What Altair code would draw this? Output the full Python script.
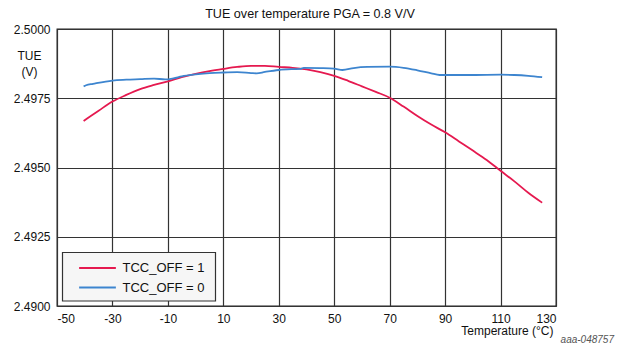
import altair as alt
import pandas as pd

# ---- data ----
temp_tcc1 = [-40.4, -39, -35, -30, -25, -20, -15, -10, -5, 0, 5, 10, 15, 20, 25, 30, 35, 40,
             45, 50, 55, 60, 65, 70, 75, 80, 85, 90, 95, 100, 105, 110, 115, 120, 125]
tue_tcc1 = [2.49668, 2.49678, 2.49705, 2.49738, 2.49762, 2.49783, 2.49798, 2.49811, 2.49826,
            2.49838, 2.49848, 2.49856, 2.49863, 2.49867, 2.49867, 2.49863, 2.49860, 2.49854,
            2.49844, 2.49831, 2.49813, 2.49793, 2.49773, 2.49752, 2.49720, 2.49686, 2.49655,
            2.49627, 2.49594, 2.49561, 2.49527, 2.49488, 2.49450, 2.49409, 2.49373]

temp_tcc0 = [-40.4, -39.5, -37, -30, -25, -20, -15, -11, -8, -5, 0, 5, 10, 15, 20, 22, 25, 30,
             35, 38, 39, 45, 50, 53, 57, 62, 70, 75, 80, 85, 88, 95, 100, 110, 115, 120, 125]
tue_tcc0 = [2.49793, 2.49797, 2.49802, 2.49814, 2.49817, 2.49819, 2.49821, 2.49818, 2.49822,
            2.49829, 2.49836, 2.49841, 2.49843, 2.49844, 2.49841, 2.49840, 2.49845, 2.49852,
            2.49855, 2.49856, 2.49860, 2.49859, 2.49857, 2.49852, 2.49859, 2.49863, 2.49864,
            2.49860, 2.49851, 2.49840, 2.49834, 2.49834, 2.49834, 2.49835, 2.49834, 2.49831,
            2.49826]

series_names = ["TCC_OFF = 1", "TCC_OFF = 0"]
series_colors = ["#e5194f", "#3d85cf"]
x_ticks = [-50, -30, -10, 10, 30, 50, 70, 90, 110, 130]
y_ticks = [2.4900, 2.4925, 2.4950, 2.4975, 2.5000]
title_text = "TUE over temperature PGA = 0.8 V/V"
note_text = "aaa-048757"

df = pd.concat([
    pd.DataFrame({"temp": temp_tcc1, "tue": tue_tcc1, "series": series_names[0], "ord": 1}),
    pd.DataFrame({"temp": temp_tcc0, "tue": tue_tcc0, "series": series_names[1], "ord": 0}),
], ignore_index=True)

FONT = "Liberation Sans"
W, H = 499, 277

# legend background box (drawn above the grid, below the legend entries)
legend_box = alt.Chart(pd.DataFrame({"k": [0]})).mark_rect(
    fill="#f6f6f6", stroke="#333333", strokeWidth=1.2
).encode(x=alt.value(5.5), x2=alt.value(158.5), y=alt.value(223.5), y2=alt.value(272))

lines = alt.Chart(df).mark_line(strokeWidth=1.8, interpolate="monotone").encode(
    x=alt.X("temp:Q",
            scale=alt.Scale(domain=[-50, 130], nice=False, zero=False),
            axis=alt.Axis(values=x_ticks, title="Temperature (°C)", titleX=W - 3, titleY=19,
                          titleAlign="right", titleBaseline="top",
                          labelExpr="'' + datum.value")),
    y=alt.Y("tue:Q",
            scale=alt.Scale(domain=[2.49, 2.50], nice=False, zero=False),
            axis=alt.Axis(values=y_ticks, format=".4f", title=["TUE", "(V)"], titleAngle=0,
                          titleX=-28, titleY=21, titleAlign="center", titleBaseline="top",
                          titleLineHeight=16)),
    color=alt.Color("series:N",
                    scale=alt.Scale(domain=series_names, range=series_colors),
                    legend=alt.Legend(title=None, orient="none", legendX=5.5, legendY=231.5,
                                      padding=0, symbolType="M-3,0H3", symbolSize=150,
                                      symbolStrokeWidth=2, symbolOffset=27.5, labelOffset=17.5,
                                      labelFontSize=13, labelFont=FONT, labelColor="#111",
                                      rowPadding=4.6)),
    order=alt.Order("ord:Q"),
)

title = alt.Chart(pd.DataFrame({"t": [title_text]})).mark_text(
    align="center", baseline="middle", font=FONT, fontSize=12.6, color="#111"
).encode(x=alt.value(W / 2 + 3.5), y=alt.value(-15), text="t:N")

note = alt.Chart(pd.DataFrame({"t": [note_text]})).mark_text(
    align="right", baseline="middle", font=FONT, fontSize=10, fontStyle="italic", color="#555"
).encode(x=alt.value(W + 58), y=alt.value(H + 34), text="t:N")

chart = alt.layer(legend_box, lines, title, note).properties(
    width=W, height=H,
    autosize=alt.AutoSizeParams(type="none"),
    padding={"left": 49, "top": 21, "right": 63, "bottom": 40},
).configure_view(
    stroke="#222", strokeWidth=1.3
).configure_axis(
    grid=True, gridColor="#333", gridWidth=1.2, domain=False, ticks=False,
    labelFont=FONT, labelFontSize=12, labelColor="#111", labelPadding=7,
    titleFont=FONT, titleFontSize=12, titleFontWeight="normal", titleColor="#111",
)

chart.save("out.html", embed_options={"renderer": "svg", "actions": False})
